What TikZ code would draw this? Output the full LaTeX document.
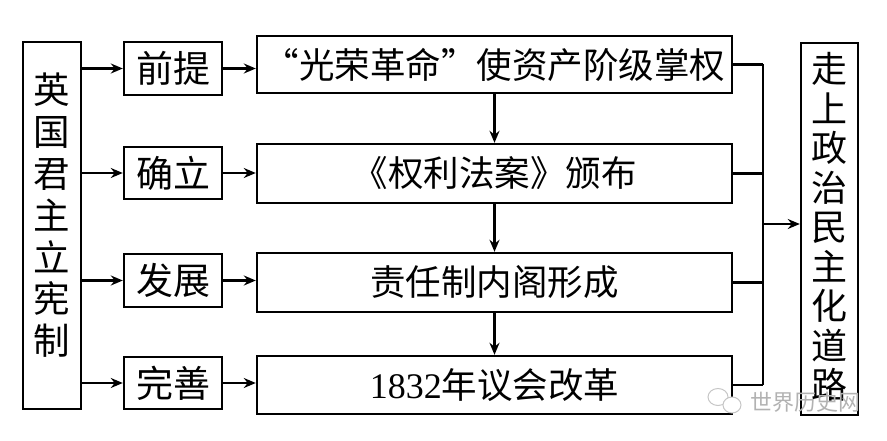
\documentclass[tikz,border=0pt]{standalone}
\usepackage{fontspec}
\setmainfont{Liberation Serif}
\newfontfamily\cjk{Noto Sans CJK SC}
\usetikzlibrary{arrows.meta}
\tikzset{
  box/.style={draw, line width=2.4pt, inner sep=0pt},
  big/.style={font=\cjk\fontsize{35.5}{40}\selectfont},
  small/.style={font=\cjk\fontsize{37}{40}\selectfont},
  conn/.style={line width=2.2pt},
  arr/.style={line width=2.2pt, -{Stealth[length=12pt,width=10pt]}},
}
\begin{document}
\begin{tikzpicture}[x=1pt,y=-1pt]
\useasboundingbox (0,0) rectangle (887,441);
% left box
\node[box, minimum width=58pt, minimum height=367pt] (L) at (52,225.5) {};
\node[align=center, font=\cjk\fontsize{36.5}{41.8}\selectfont] (Lt) at (52,215.5) {英\\国\\君\\主\\立\\宪\\制};
% right box
\node[box, minimum width=57pt, minimum height=372pt] (R) at (829.5,229) {};
\node[align=center, font=\cjk\fontsize{36}{39.5}\selectfont] (Rt) at (829.5,227) {走\\上\\政\\治\\民\\主\\化\\道\\路};
% small boxes
\node[box, small, minimum width=98pt, minimum height=53pt] (S1) at (173,68.5) {前提};
\node[box, small, minimum width=98pt, minimum height=52pt] (S2) at (173,173) {确立};
\node[box, small, minimum width=98pt, minimum height=53pt] (S3) at (173,280.5) {发展};
\node[box, small, minimum width=98pt, minimum height=52pt] (S4) at (173,383) {完善};
% main boxes
\node[box, big, minimum width=475pt, minimum height=57pt] (M1) at (494.5,64.5) {“光荣革命”使资产阶级掌权};
\node[box, big, minimum width=475pt, minimum height=59pt] (M2) at (494.5,173.5) {《权利法案》颁布};
\node[box, big, minimum width=475pt, minimum height=59pt] (M3) at (494.5,282.5) {责任制内阁形成};
\node[box, big, minimum width=475pt, minimum height=58pt] (M4) at (494.5,385) {{\fontsize{36}{40}\rmfamily 1832}年议会改革};
% left arrows
\foreach \i in {1,2,3,4} {
  \draw[arr] (L.east |- S\i.west) -- (S\i.west);
  \draw[arr] (S\i.east) -- (S\i.east -| M\i.west);
}
% vertical arrows
\draw[arr] (M1.south) -- (M2.north);
\draw[arr] (M2.south) -- (M3.north);
\draw[arr] (M3.south) -- (M4.north);
% right joins
\coordinate (J) at (763,224);
\foreach \i in {1,2,3,4} {
  \draw[conn] (M\i.east) -- (M\i.east -| J);
}
\draw[conn] (M1.east -| J) -- (M4.east -| J);
\draw[arr] (J) -- (J -| R.west);
% watermark
\draw[gray!45, line width=1pt] (718,397) ellipse (10pt and 8.5pt);
\draw[gray!45, line width=1pt, fill=white] (732,405) ellipse (9pt and 8pt);
\node[text=gray!60, font=\cjk\fontsize{22}{22}\selectfont] (W) at (805,402) {世界历史网};
\end{tikzpicture}
\end{document}
